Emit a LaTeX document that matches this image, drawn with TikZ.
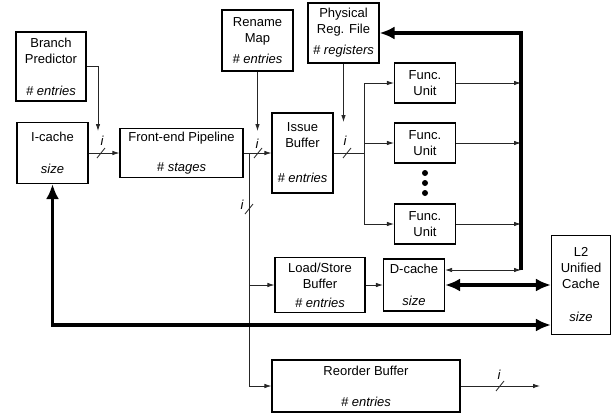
\documentclass[tikz,border=0pt]{standalone}
\usepackage{fontspec}
\setmainfont{Liberation Sans}
\usetikzlibrary{arrows.meta}

\begin{document}
\begin{tikzpicture}[x=1pt, y=-1pt,
    every node/.style={font=\fontsize{13}{16}\selectfont},
    smalltip/.tip={Latex[length=7pt,width=4.5pt]},
    bigtip/.tip={Latex[length=15pt,width=13pt]},
    blk/.style={draw, line width=1.1pt, align=center, inner sep=0pt},
    conn/.style={line width=0.8pt, draw=black!85, -smalltip},
    line/.style={line width=0.8pt, draw=black!85},
    bus/.style={line width=3.6pt, -bigtip},
    wd/.style={font=\fontsize{13}{16}\selectfont\itshape}]
  \useasboundingbox (0,0) rectangle (613,415);

  \node[blk, minimum width=70pt, minimum height=69pt] (bp) at (51,66.5) {Branch\\Predictor\\[16pt]\textit{\# entries}};
  \node[blk, minimum width=71pt, minimum height=61pt] (ic) at (52.5,153) {I-cache\\[16pt]\textit{size}};
  \node[blk, minimum width=123pt, minimum height=49pt] (fe) at (181.5,153) {Front-end Pipeline\\[14pt]\textit{\# stages}};
  \node[blk, minimum width=71pt, minimum height=61pt] (rn) at (257.5,40.5) {Rename\\Map\\[5pt]\textit{\# entries}};
  \node[blk, minimum width=61pt, minimum height=80pt] (ib) at (302.5,153) {Issue\\Buffer\\[19pt]\textit{\# entries}};
  \node[blk, minimum width=71pt, minimum height=60pt] (pr) at (343.5,33) {Physical\\Reg. File\\[5pt]\textit{\# registers}};
  \node[blk, minimum width=61pt, minimum height=40pt] (fu1) at (425,83) {Func.\\Unit};
  \node[blk, minimum width=61pt, minimum height=40pt] (fu2) at (425,143) {Func.\\Unit};
  \node[blk, minimum width=61pt, minimum height=40pt] (fu3) at (425,224) {Func.\\Unit};
  \node[blk, minimum width=90pt, minimum height=55pt] (lsb) at (320,285) {Load/Store\\Buffer\\[3pt]\textit{\# entries}};
  \node[blk, minimum width=61pt, minimum height=52pt] (dc) at (414,285) {D-cache\\[16pt]\textit{size}};
  \node[blk, minimum width=59pt, minimum height=99pt] (l2) at (581,285) {L2\\Unified\\Cache\\[17pt]\textit{size}};
  \node[blk, minimum width=188pt, minimum height=52pt] (ro) at (366,386) {Reorder Buffer\\[15pt]\textit{\# entries}};

  \fill (425,173) circle (3pt) (425,183) circle (3pt) (425,193) circle (3pt);

  \coordinate (bpin) at (98,131);
  \coordinate (rnin) at (257.5,131);
  \coordinate (prin) at (343.5,122);
  \coordinate (fork) at (249,153);
  \coordinate (split) at (364,153);
  \coordinate (rtop) at (521,33);
  \coordinate (rbot) at (521,270);
  \coordinate (roout) at (540,386);

  \draw[conn] (bp.east) -| (bpin);
  \draw[conn] (rn.south) -- (rnin);
  \draw[conn] (pr.south) -- (prin);
  \draw[conn] (ic) -- (fe);
  \draw[conn] (fe) -- (ib);
  \draw[conn] (fork) |- (ro.west);
  \draw[conn] (fork |- lsb.west) -- (lsb.west);
  \draw[conn] (lsb) -- (dc);
  \draw[line] (ib.east) -- (split) (fu1.west -| split) -- (fu3.west -| split);
  \foreach \f in {fu1,fu2,fu3} {
    \draw[conn] (\f.west -| split) -- (\f.west);
    \draw[conn] (\f.east) -- (\f.east -| rbot);
  }
  \draw[conn, smalltip-smalltip] ([yshift=15pt]dc.east) -- ([yshift=15pt]dc.east -| rbot);
  \draw[conn] (ro) -- (roout);

  \draw[bus] (rbot) -- (rtop) -- (pr.east);
  \draw[bus, bigtip-bigtip] (dc) -- (l2);
  \draw[bus, bigtip-bigtip] (ic.south) |- ([yshift=-40pt]l2.west);

  \foreach \sx/\sy/\lx/\ly [count=\k] in {101/153/102/141, 258/153/257/144, 347/153/345/141, 249/209/242/205, 500/386/499/375} {
    \draw[line] (\sx-4,\sy+5) -- (\sx+4,\sy-5);
    \node[wd] (w\k) at (\lx,\ly) {i};
  }
\end{tikzpicture}
\end{document}
